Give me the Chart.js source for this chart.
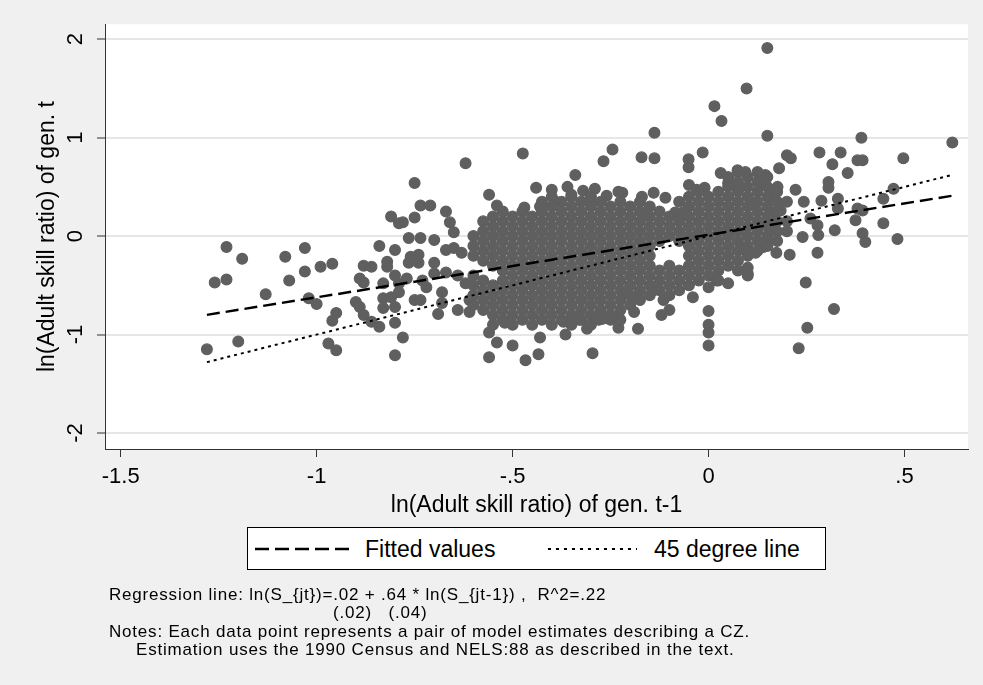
<!DOCTYPE html>
<html>
<head>
<meta charset="utf-8">
<title>ln(Adult skill ratio): gen. t vs gen. t-1</title>
<script src="https://cdn.jsdelivr.net/npm/chart.js@4.4.1/dist/chart.umd.min.js"></script>
<style>
  body { margin: 0; background: #f0f0f0; }
  #wrap { position: relative; width: 983px; height: 685px; font-family: "Liberation Sans", Arial, sans-serif; color: #000; }
  #chart { position: absolute; left: 0; top: 0; }
  .legend-box { position: absolute; left: 247px; top: 527px; width: 579px; height: 43px; box-sizing: border-box; border: 1px solid #000; background: #fff; }
  .key { position: absolute; top: 544px; }
  .key-text { position: absolute; top: 535px; font-size: 23px; line-height: 28px; white-space: nowrap; }
  .note { position: absolute; left: 109px; font-size: 17px; line-height: 19px; letter-spacing: 0.8px; white-space: pre; }
</style>
</head>
<body>
<div id="wrap">
  <canvas id="chart" width="983" height="685"></canvas>

  <div class="legend-box"></div>
  <svg class="key" style="left:255px" width="96" height="10"><line x1="0" y1="5" x2="95" y2="5" stroke="#000" stroke-width="2.5" stroke-dasharray="14 6"/></svg>
  <div class="key-text" style="left:365px">Fitted values</div>
  <svg class="key" style="left:548px" width="90" height="10"><line x1="0" y1="5" x2="89" y2="5" stroke="#000" stroke-width="2" stroke-dasharray="3 5"/></svg>
  <div class="key-text" style="left:654px">45 degree line</div>

  <div class="note" style="top:585px">Regression line: ln(S_{jt})=.02 + .64 * ln(S_{jt-1}) ,  R^2=.22</div>
  <div class="note" style="top:603px;left:333px">(.02)   (.04)</div>
  <div class="note" style="top:622px">Notes: Each data point represents a pair of model estimates describing a CZ.</div>
  <div class="note" style="top:640px;left:136px">Estimation uses the 1990 Census and NELS:88 as described in the text.</div>
</div>

<script>
// axis ticks
const xTickValues = [-1.5, -1, -0.5, 0, 0.5];
const xTickLabels = ['-1.5', '-1', '-.5', '0', '.5'];
const yTickValues = [-2, -1, 0, 1, 2];
const yTickLabels = ['-2', '-1', '0', '1', '2'];

// CZ estimates [ln ratio gen. t-1, ln ratio gen. t]
const leftPoints = [
  [-1.28,-1.15],[-1.26,-0.47],[-1.23,-0.44],[-1.23,-0.11],[-1.20,-1.07],[-1.19,-0.23],
  [-1.13,-0.59],[-1.08,-0.21],[-1.07,-0.45],[-1.03,-0.12],[-1.03,-0.36],[-1.02,-0.63],
  [-1.00,-0.69],[-0.99,-0.31],[-0.96,-0.28],[-0.97,-1.09],[-0.95,-1.16],[-0.95,-0.78],
  [-0.96,-0.86]
];

const midLeftPoints = [
  [-0.81,0.20],[-0.79,0.13],[-0.84,-0.10],[-0.80,-0.14],[-0.88,-0.30],[-0.86,-0.31],
  [-0.82,-0.26],[-0.82,-0.31],[-0.89,-0.43],[-0.88,-0.47],[-0.83,-0.48],[-0.79,-0.48],
  [-0.90,-0.67],[-0.89,-0.72],[-0.88,-0.80],[-0.86,-0.87],[-0.84,-0.92],[-0.80,-0.88],
  [-0.83,-0.73],[-0.81,-0.62],[-0.83,-0.63],[-0.80,-0.72],[-0.80,-1.21],[-0.78,-1.03],
  [-0.62,0.74],[-0.75,0.54],[-0.735,0.31],[-0.71,0.31],[-0.78,0.14],[-0.75,0.19],
  [-0.67,0.25],[-0.66,0.14],[-0.65,0.04],[-0.765,-0.02],[-0.735,-0.02],[-0.70,-0.04],
  [-0.76,-0.21],[-0.74,-0.19],[-0.765,-0.27],[-0.74,-0.27],[-0.70,-0.27],[-0.67,-0.14],
  [-0.65,-0.12],[-0.63,-0.17],[-0.80,-0.40],[-0.77,-0.43],[-0.73,-0.45],[-0.70,-0.38],
  [-0.67,-0.37],[-0.64,-0.40],[-0.62,-0.48],[-0.79,-0.57],[-0.75,-0.65],[-0.735,-0.65],
  [-0.72,-0.52],[-0.68,-0.57],[-0.68,-0.68],[-0.64,-0.75],[-0.61,-0.77],[-0.61,-0.65],
  [-0.69,-0.79]
];

const upperPoints = [
  [-0.56,0.42],[-0.54,0.31],[-0.474,0.84],[-0.34,0.62],[-0.44,0.49],[-0.40,0.47],
  [-0.35,0.42],[-0.47,0.29],[-0.245,0.88],[-0.268,0.76],[-0.32,0.46],[-0.29,0.48],
  [-0.23,0.45],[-0.39,0.35],[-0.30,0.34],[-0.36,0.50],[-0.26,0.41],[-0.43,0.30],
  [0.015,1.32],[0.033,1.17],[-0.138,1.05],[-0.171,0.80],[-0.138,0.79],[-0.051,0.78],
  [-0.051,0.70],[-0.015,0.85],[0.031,0.64],[0.074,0.67],[0.094,0.65],[0.05,0.54],
  [0.077,0.50],[-0.05,0.52],[-0.03,0.47],[-0.01,0.49],[-0.17,0.40],[-0.14,0.44],
  [-0.11,0.39],[-0.22,0.44],[-0.165,0.21],[-0.085,0.24],[-0.065,0.24],[0.08,0.50]
];

const lowerPoints = [
  [-0.56,-1.23],[-0.56,-0.98],[-0.54,-1.08],[-0.50,-1.11],[-0.467,-1.26],[-0.434,-1.20],
  [-0.43,-1.03],[-0.365,-1.00],[-0.296,-1.19],[-0.31,-0.94],[-0.23,-0.93],[-0.52,-0.88],
  [-0.37,-0.87],[-0.33,-0.85],[-0.28,-0.85],[-0.25,-0.85],[-0.18,-0.94],[-0.19,-0.77],
  [-0.12,-0.80],[-0.10,-0.75],[0.0,-0.76],[0.0,-0.90],[0.0,-0.98],[0.0,-1.11],
  [-0.04,-0.62],[0.05,-0.48],[0.02,-0.45],[0.0,-0.52],[0.10,-0.38],[-0.34,-0.83],
  [-0.24,-0.82],[-0.27,-0.84],[-0.14,-0.55],[-0.115,-0.65],[-0.18,-0.62],[-0.21,-0.57]
];

const rightPoints = [
  [0.15,1.91],[0.097,1.50],[0.15,1.02],[0.39,1.00],[0.20,0.82],[0.21,0.79],
  [0.283,0.85],[0.337,0.85],[0.38,0.77],[0.316,0.73],[0.18,0.69],[0.355,0.64],
  [0.145,0.62],[0.145,0.52],[0.176,0.50],[0.163,0.40],[0.306,0.55],[0.306,0.49],
  [0.222,0.47],[0.243,0.35],[0.288,0.36],[0.33,0.38],[0.33,0.28],[0.38,0.28],
  [0.375,0.16],[0.26,0.18],[0.278,0.11],[0.28,0.01],[0.322,0.06],[0.24,-0.01],
  [0.393,0.03],[0.40,-0.06],[0.278,-0.17],[0.173,-0.17],[0.207,-0.19],[0.248,-0.47],
  [0.32,-0.74],[0.252,-0.93],[0.23,-1.14],[0.10,-0.32],[0.10,-0.40],[0.12,-0.17],
  [0.14,-0.11],[0.153,-0.04],[0.17,0.06],[0.184,0.26],[0.166,0.24],[0.115,0.34],
  [0.087,-0.12],[0.622,0.95],[0.497,0.79],[0.472,0.48],[0.446,0.38],[0.446,0.13],
  [0.482,-0.03],[0.393,0.77],[0.393,0.26]
];

// the dense middle of the cloud, column by column: [x, y values]
const cloudColumns = [
  [-0.600, [0.00,-0.10,-0.20,-0.40,-0.50,-0.60,-0.70]],
  [-0.575, [0.15,0.05,-0.05,-0.15,-0.25,-0.45,-0.55,-0.65,-0.75]],
  [-0.550, [0.20,0.10,0.00,-0.10,-0.20,-0.30,-0.50,-0.60,-0.70,-0.80,-0.90]],
  [-0.525, [0.25,0.15,0.05,-0.05,-0.15,-0.25,-0.35,-0.45,-0.55,-0.65,-0.75,-0.85]],
  [-0.500, [0.20,0.10,0.00,-0.10,-0.20,-0.30,-0.40,-0.50,-0.60,-0.70,-0.80,-0.90]],
  [-0.475, [0.25,0.15,0.05,-0.05,-0.15,-0.25,-0.35,-0.45,-0.55,-0.65,-0.75,-0.85]],
  [-0.450, [0.20,0.10,0.00,-0.10,-0.20,-0.30,-0.40,-0.50,-0.60,-0.70,-0.80,-0.90]],
  [-0.425, [0.35,0.25,0.15,0.05,-0.05,-0.15,-0.25,-0.35,-0.45,-0.55,-0.65,-0.75,-0.85]],
  [-0.400, [0.40,0.30,0.20,0.10,0.00,-0.10,-0.20,-0.30,-0.40,-0.50,-0.60,-0.70,-0.80,-0.90]],
  [-0.375, [0.35,0.25,0.15,0.05,-0.05,-0.15,-0.25,-0.35,-0.45,-0.55,-0.65,-0.75,-0.85]],
  [-0.350, [0.40,0.30,0.20,0.10,0.00,-0.10,-0.20,-0.30,-0.40,-0.50,-0.60,-0.70,-0.80,-0.90]],
  [-0.325, [0.35,0.25,0.15,0.05,-0.05,-0.15,-0.25,-0.35,-0.45,-0.55,-0.65,-0.75,-0.85]],
  [-0.300, [0.40,0.30,0.20,0.10,0.00,-0.10,-0.20,-0.30,-0.40,-0.50,-0.60,-0.70,-0.80,-0.90]],
  [-0.275, [0.35,0.25,0.15,0.05,-0.05,-0.15,-0.25,-0.35,-0.45,-0.55,-0.65,-0.75]],
  [-0.250, [0.30,0.20,0.10,0.00,-0.10,-0.20,-0.30,-0.40,-0.50,-0.60,-0.70,-0.80]],
  [-0.225, [0.35,0.25,0.15,0.05,-0.05,-0.15,-0.25,-0.35,-0.45,-0.55,-0.65,-0.75,-0.85]],
  [-0.200, [0.30,0.20,0.10,0.00,-0.10,-0.20,-0.30,-0.40,-0.50,-0.60,-0.70]],
  [-0.175, [0.35,0.25,0.15,0.05,-0.05,-0.15,-0.25,-0.35,-0.45,-0.55,-0.65]],
  [-0.150, [0.30,0.20,0.10,0.00,-0.10,-0.20,-0.30,-0.40,-0.50,-0.60]],
  [-0.125, [0.25,0.15,0.05,-0.05,-0.35,-0.45,-0.55]],
  [-0.100, [0.20,0.10,0.00,-0.30,-0.40,-0.50,-0.60]],
  [-0.075, [0.35,0.15,0.05,-0.05,-0.35,-0.45,-0.55]],
  [-0.050, [0.40,0.30,0.20,0.10,0.00,-0.10,-0.20,-0.30,-0.40,-0.50]],
  [-0.025, [0.45,0.35,0.25,0.15,0.05,-0.05,-0.15,-0.25,-0.35,-0.45]],
  [ 0.000, [0.40,0.30,0.20,0.10,0.00,-0.10,-0.20,-0.30,-0.40]],
  [ 0.025, [0.45,0.35,0.25,0.15,0.05,-0.05,-0.15,-0.25,-0.35,-0.45]],
  [ 0.050, [0.60,0.50,0.40,0.30,0.20,0.10,0.00,-0.10,-0.20,-0.30]],
  [ 0.075, [0.65,0.55,0.45,0.35,0.25,0.15,0.05,-0.05,-0.15,-0.25,-0.35]],
  [ 0.100, [0.60,0.50,0.40,0.30,0.20,0.10,0.00,-0.10,-0.20]],
  [ 0.125, [0.65,0.55,0.45,0.35,0.25,0.15,0.05,-0.05,-0.15]],
  [ 0.150, [0.60,0.50,0.40,0.30,0.20,0.10,0.00,-0.10]],
  [ 0.175, [0.45,0.35,0.25,0.15,0.05,-0.05]],
  [ 0.200, [0.35,0.15,0.05]]
];

// fitted regression line and 45 degree line, end points
const fitX = [-1.28, 0.622];
const fitY = [-0.80, 0.41];
const diagX = [-1.28, 0.622];
const diagY = [-1.28, 0.622];

const czPoints = [...leftPoints, ...midLeftPoints, ...upperPoints, ...lowerPoints, ...rightPoints]
  .concat(cloudColumns.flatMap(([x, ys]) => ys.map(y => [x, y])))
  .map(([x, y]) => ({ x, y }));

const toXY = (xs, ys) => xs.map((x, i) => ({ x, y: ys[i] }));

// white plot region on the grey graph region
const plotBackground = {
  id: 'plotBackground',
  beforeDraw(chart) {
    const { ctx, chartArea: a } = chart;
    ctx.save();
    ctx.fillStyle = '#ffffff';
    ctx.fillRect(a.left, a.top, a.right - a.left, a.bottom - a.top);
    ctx.restore();
  }
};

Chart.defaults.font.family = '"Liberation Sans", Arial, sans-serif';

new Chart(document.getElementById('chart'), {
  type: 'scatter',
  data: {
    datasets: [
      {
        label: 'Fitted values',
        type: 'line',
        data: toXY(fitX, fitY),
        borderColor: '#000',
        borderWidth: 2.5,
        borderDash: [13, 6],
        pointRadius: 0,
        fill: false,
        order: 0
      },
      {
        label: '45 degree line',
        type: 'line',
        data: toXY(diagX, diagY),
        borderColor: '#000',
        borderWidth: 2,
        borderDash: [3, 4],
        pointRadius: 0,
        fill: false,
        order: 0
      },
      {
        label: 'CZ',
        data: czPoints,
        pointRadius: 5.4,
        pointBackgroundColor: '#5f5f5f',
        pointBorderColor: '#5f5f5f',
        pointBorderWidth: 1.2,
        order: 1
      }
    ]
  },
  options: {
    responsive: false,
    animation: false,
    events: [],
    layout: { padding: { top: 23, right: 15, bottom: 156, left: 0 } },
    plugins: {
      legend: { display: false },
      tooltip: { enabled: false }
    },
    scales: {
      x: {
        type: 'linear',
        min: -1.54,
        max: 0.662,
        afterBuildTicks: (scale) => { scale.ticks = xTickValues.map(v => ({ value: v })); },
        afterFit: (scale) => { scale.height = 80; },
        ticks: {
          callback: (value, index) => xTickLabels[index],
          color: '#000',
          font: { size: 22 },
          padding: 7,
          maxRotation: 0,
          autoSkip: false
        },
        grid: { drawOnChartArea: false, tickLength: 8, tickColor: '#333', tickWidth: 1 },
        border: { color: '#333', width: 1 },
        title: {
          display: true,
          text: 'ln(Adult skill ratio) of gen. t-1',
          color: '#000',
          font: { size: 23 },
          padding: { top: 0, bottom: 10 }
        }
      },
      y: {
        type: 'linear',
        min: -2.162,
        max: 2.152,
        afterBuildTicks: (scale) => { scale.ticks = yTickValues.map(v => ({ value: v })); },
        afterFit: (scale) => { scale.width = 105; },
        ticks: {
          callback: (value, index) => yTickLabels[index],
          color: '#000',
          font: { size: 22 },
          padding: 11,
          minRotation: 90,
          maxRotation: 90,
          crossAlign: 'center',
          autoSkip: false
        },
        grid: { color: '#e6e6e6', lineWidth: 2, tickLength: 8, tickColor: '#333', tickWidth: 1 },
        border: { color: '#333', width: 1 },
        title: {
          display: true,
          text: 'ln(Adult skill ratio) of gen. t',
          color: '#000',
          font: { size: 23 },
          padding: { top: 34, bottom: 0 }
        }
      }
    }
  },
  plugins: [plotBackground]
});
</script>
</body>
</html>
